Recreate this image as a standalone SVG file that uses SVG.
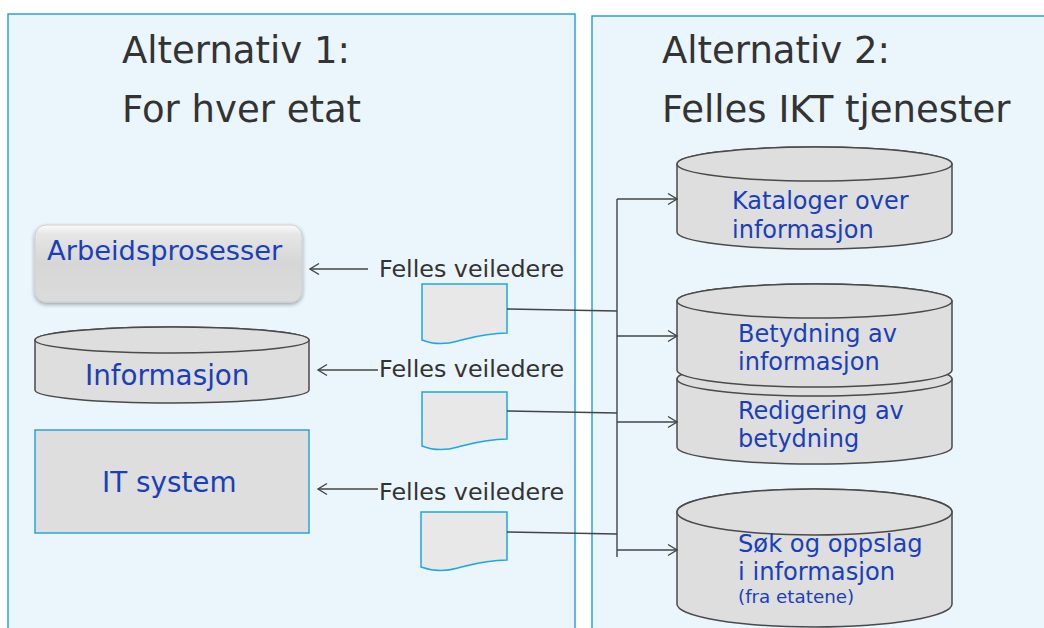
<svg xmlns="http://www.w3.org/2000/svg" width="1044" height="628" viewBox="0 0 1044 628">
<style>
.panel{fill:#eaf5fc;stroke:#2aa3dc;stroke-width:1.5}
.title{font-family:"DejaVu Sans",Verdana,sans-serif;font-size:37px;fill:#333}
.lbl{font-family:"DejaVu Sans",Verdana,sans-serif;font-size:23.8px;fill:#333}
.nt{font-family:"DejaVu Sans",Verdana,sans-serif;fill:#1a3fbb}
.cyl{fill:#dedede;stroke:#4a4a4a;stroke-width:1.5}
.doc{fill:#e8e8e8;stroke:#1ea7e1;stroke-width:1.5}
.con{fill:none;stroke:#444;stroke-width:1.4}
</style>
<defs>
<marker id="arr" markerUnits="userSpaceOnUse" markerWidth="14" markerHeight="14" refX="11" refY="7" orient="auto">
<path d="M2,1.5 L11,7 L2,12.5" fill="none" stroke="#444" stroke-width="1.4"/>
</marker>
<linearGradient id="gbtn" x1="0" y1="0" x2="0" y2="1">
<stop offset="0" stop-color="#fbfbfb"/>
<stop offset="0.12" stop-color="#e6e6e6"/>
<stop offset="0.5" stop-color="#d6d6d6"/>
<stop offset="1" stop-color="#dcdcdc"/>
</linearGradient>
<filter id="sh" x="-10%" y="-10%" width="120%" height="130%">
<feGaussianBlur in="SourceAlpha" stdDeviation="2"/>
<feOffset dx="0" dy="2" result="b"/>
<feComponentTransfer><feFuncA type="linear" slope="0.35"/></feComponentTransfer>
<feMerge><feMergeNode/><feMergeNode in="SourceGraphic"/></feMerge>
</filter>
</defs>
<rect x="0" y="0" width="1044" height="628" fill="#fff"/>

<g id="panel1">
<rect class="panel" x="8" y="14" width="567" height="630"/>
<text class="title" x="122" y="63">Alternativ 1:</text>
<text class="title" x="122" y="122">For hver etat</text>
</g>
<g id="panel2">
<rect class="panel" x="592" y="16" width="470" height="630"/>
<text class="title" x="662" y="63">Alternativ 2:</text>
<text class="title" x="662" y="122">Felles IKT tjenester</text>
</g>

<g id="arbeidsprosesser">
<rect x="35" y="225" width="267" height="77" rx="11" fill="url(#gbtn)" stroke="#cfcfcf" stroke-width="1" filter="url(#sh)"/>
<text class="nt" x="47" y="260" font-size="27.3">Arbeidsprosesser</text>
</g>

<g id="informasjon">
<path class="cyl" d="M35,340 V390 A137,13 0 0 0 309,390 V340 A137,13 0 0 0 35,340 Z"/>
<ellipse class="cyl" cx="172" cy="340" rx="137" ry="13"/>
<text class="nt" x="85" y="385" font-size="27.8">Informasjon</text>
</g>

<g id="itsystem">
<rect x="35" y="430" width="274" height="103" fill="#dedede" stroke="#2aa3dc" stroke-width="1.5"/>
<text class="nt" x="102" y="492" font-size="27.8">IT system</text>
</g>

<g id="doc1">
<path class="doc" d="M422,284 H507 V333 C485,333 470,338 458,341 C444,345 432,344 422,340 Z"/>
<text class="lbl" x="379" y="277">Felles veiledere</text>
</g>
<g id="doc2">
<path class="doc" d="M422,392 H507 V439 C485,439 470,444 458,447 C444,451 432,450 422,446 Z"/>
<text class="lbl" x="379" y="377">Felles veiledere</text>
</g>
<g id="doc3">
<path class="doc" d="M421,512 H507 V560 C485,560 470,565 458,568 C444,572 432,571 421,567 Z"/>
<text class="lbl" x="379" y="500">Felles veiledere</text>
</g>

<g id="kataloger">
<path class="cyl" d="M677,164 V232 A137.5,17 0 0 0 952,232 V164 A137.5,17 0 0 0 677,164 Z"/>
<ellipse class="cyl" cx="814.5" cy="164" rx="137.5" ry="17"/>
<text class="nt" font-size="24"><tspan x="732" y="209">Kataloger over</tspan><tspan x="732" y="238">informasjon</tspan></text>
</g>

<g id="redigering">
<path class="cyl" d="M677,379 V447 A137.5,17 0 0 0 952,447 V379 A137.5,17 0 0 0 677,379 Z"/>
<ellipse class="cyl" cx="814.5" cy="379" rx="137.5" ry="17"/>
<text class="nt" font-size="24"><tspan x="738" y="419">Redigering av</tspan><tspan x="738" y="447">betydning</tspan></text>
</g>

<g id="betydning">
<path class="cyl" d="M677,301 V370 A137.5,17 0 0 0 952,370 V301 A137.5,17 0 0 0 677,301 Z"/>
<ellipse class="cyl" cx="814.5" cy="301" rx="137.5" ry="17"/>
<text class="nt" font-size="24"><tspan x="738" y="342">Betydning av</tspan><tspan x="738" y="370">informasjon</tspan></text>
</g>

<g id="sok">
<path class="cyl" d="M677,512 V604 A137.5,23 0 0 0 952,604 V512 A137.5,23 0 0 0 677,512 Z"/>
<ellipse class="cyl" cx="814.5" cy="512" rx="137.5" ry="23"/>
<text class="nt" font-size="24.2"><tspan x="738" y="552">Søk og oppslag</tspan><tspan x="738" y="580">i informasjon</tspan></text>
<text class="nt" x="738" y="603" font-size="18.3">(fra etatene)</text>
</g>

<g id="connectors">
<line class="con" x1="368" y1="269" x2="310" y2="269" marker-end="url(#arr)"/>
<line class="con" x1="378" y1="370" x2="318" y2="370" marker-end="url(#arr)"/>
<line class="con" x1="378" y1="489" x2="318" y2="489" marker-end="url(#arr)"/>
<line class="con" x1="507" y1="309" x2="617" y2="311"/>
<line class="con" x1="507" y1="411" x2="617" y2="413"/>
<line class="con" x1="507" y1="532" x2="617" y2="534"/>
<line class="con" x1="617" y1="199" x2="617" y2="557"/>
<line class="con" x1="617" y1="199" x2="677" y2="199" marker-end="url(#arr)"/>
<line class="con" x1="617" y1="336" x2="677" y2="336" marker-end="url(#arr)"/>
<line class="con" x1="617" y1="422" x2="677" y2="422" marker-end="url(#arr)"/>
<line class="con" x1="617" y1="550" x2="677" y2="550" marker-end="url(#arr)"/>
</g>
</svg>
